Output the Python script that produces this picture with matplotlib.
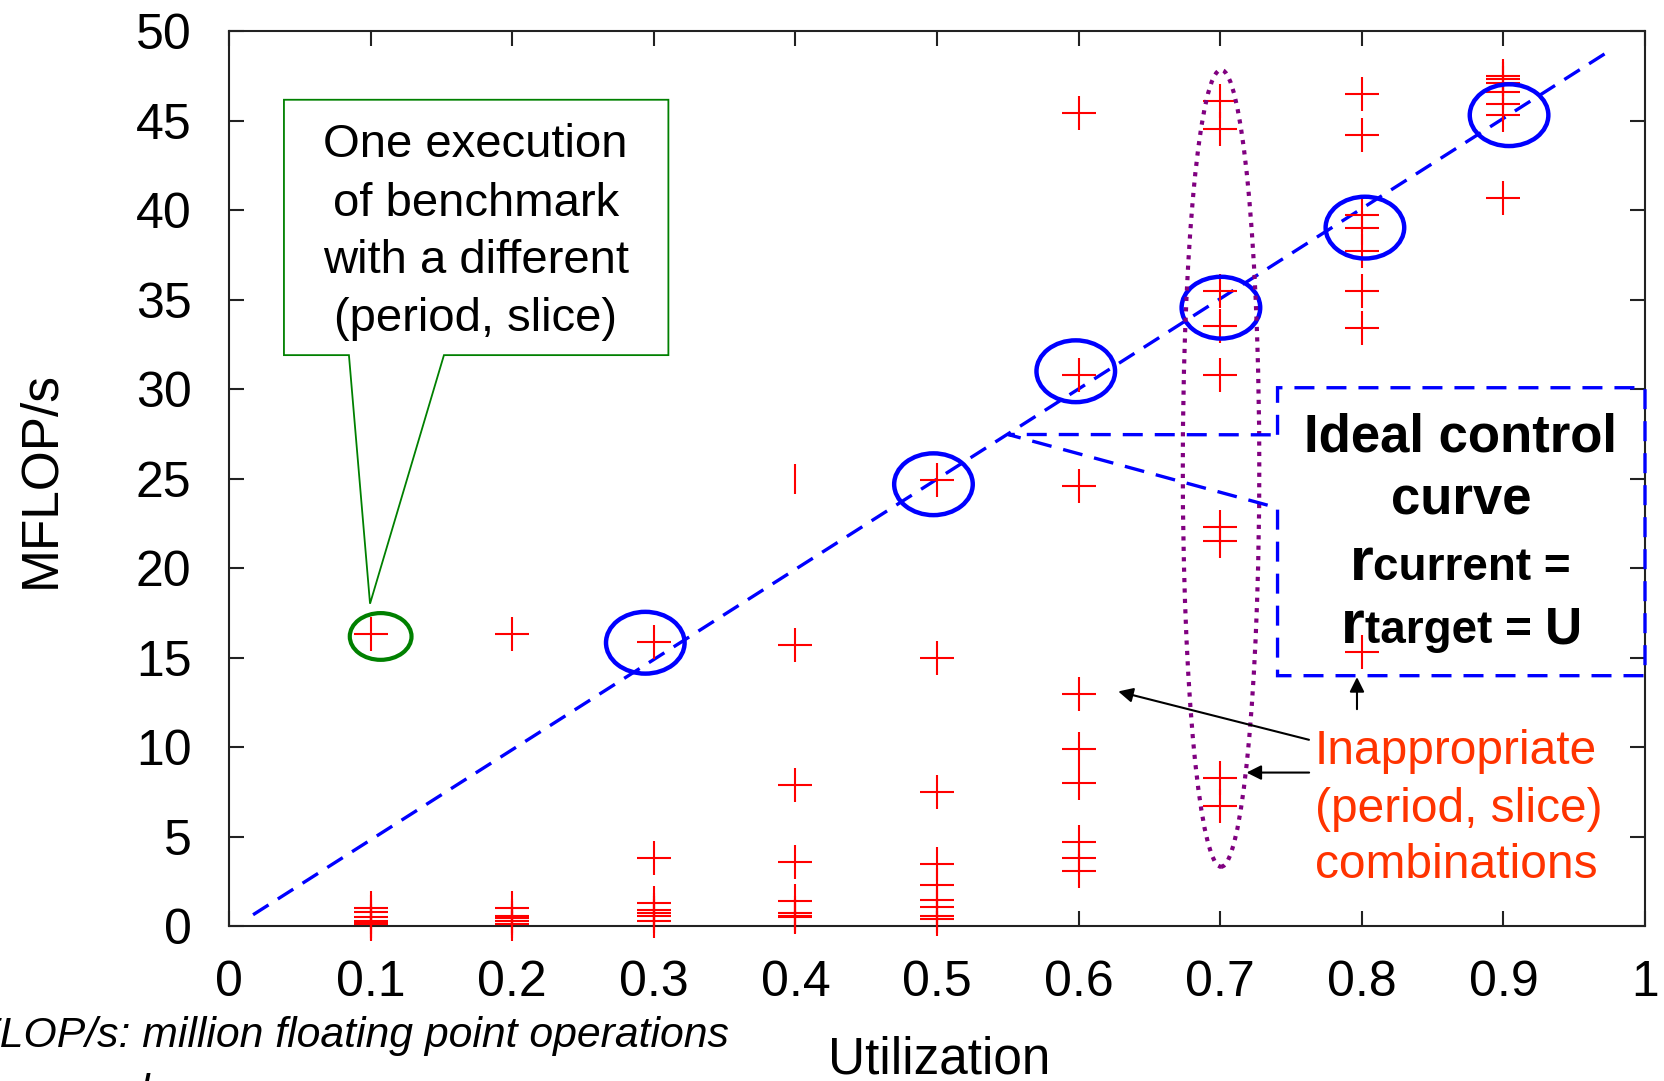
import matplotlib
matplotlib.use("Agg")
import matplotlib.pyplot as plt
from matplotlib.patches import Ellipse, Polygon

plt.rcParams['font.family'] = ['Liberation Sans', 'DejaVu Sans']

# ---------------- data ----------------
utilization = [0.1, 0.2, 0.3, 0.4, 0.5, 0.6, 0.7, 0.8, 0.9]
mflops_u01 = [16.3, 1.0, 0.8, 0.55, 0.3, 0.2, 0.13]
mflops_u02 = [16.3, 1.0, 0.6, 0.45, 0.3, 0.16]
mflops_u03 = [15.9, 3.8, 1.3, 0.9, 0.75, 0.6, 0.3]
mflops_u04 = [15.7, 7.9, 3.6, 1.4, 0.75, 0.6, 0.5]
mflops_u05 = [24.9, 15.0, 7.5, 3.5, 2.3, 1.5, 1.1, 0.6, 0.4]
mflops_u06 = [45.4, 30.8, 24.6, 13.0, 9.9, 8.0, 4.7, 3.8, 3.1]
mflops_u07 = [46.1, 44.5, 35.5, 33.5, 30.8, 22.3, 21.5, 8.3, 6.7]
mflops_u08 = [46.5, 44.2, 39.7, 39.0, 37.7, 35.5, 33.4, 15.3]
mflops_u09 = [47.5, 47.3, 47.1, 46.6, 45.9, 45.3, 40.7]
# point drawn only as a vertical stroke in the original
partial_x = [0.4]
partial_y = [25.0]

ideal_x = [0.017, 0.977]
ideal_y = [0.65, 49.0]

xtick_vals = [0, 0.1, 0.2, 0.3, 0.4, 0.5, 0.6, 0.7, 0.8, 0.9, 1.0]
xtick_labels = ['0', '0.1', '0.2', '0.3', '0.4', '0.5', '0.6', '0.7', '0.8', '0.9', '1']
ytick_vals = [0, 5, 10, 15, 20, 25, 30, 35, 40, 45, 50]

# highlighted (near-ideal) points
ideal_marks_x = [0.294, 0.4975, 0.598, 0.7005, 0.8022, 0.904]
ideal_marks_y = [15.84, 24.69, 31.0, 34.55, 39.02, 45.3]

# ---------------- figure ----------------
fig = plt.figure(figsize=(16.64, 10.81), dpi=100)
ax = fig.add_axes([0.13762, 0.14302, 0.85096, 0.82831])
ax.set_xlim(0, 1)
ax.set_ylim(0, 50)

groups = [mflops_u01, mflops_u02, mflops_u03, mflops_u04, mflops_u05,
          mflops_u06, mflops_u07, mflops_u08, mflops_u09]
xs, ys = [], []
for u, vals in zip(utilization, groups):
    xs.extend([u] * len(vals))
    ys.extend(vals)

red = '#FF0000'
ax.plot(ideal_x, ideal_y, color='#0000FF', lw=2.4, linestyle=(0, (5.5, 3.3)), zorder=2)
ax.plot(xs, ys, linestyle='none', marker='+', ms=24, mew=1.5, color=red,
        clip_on=False, zorder=3)
ax.plot(partial_x, partial_y, linestyle='none', marker='|', ms=22, mew=1.5,
        color=red, clip_on=False, zorder=3)

# blue ellipses around near-ideal points
for cx, cy in zip(ideal_marks_x, ideal_marks_y):
    ax.add_patch(Ellipse((cx, cy), 0.0555, 3.45, fill=False, ec='#0000FF',
                         lw=3.2, zorder=4))

# green ellipse
ax.add_patch(Ellipse((0.1071, 16.19), 0.0436, 2.61, fill=False, ec='#008000',
                     lw=3.0, zorder=4))

# purple dotted ellipse
ax.add_patch(Ellipse((0.7006, 25.58), 0.054, 44.5, fill=False, ec='#800080',
                     lw=3.0, linestyle=(0, (1, 1.5)), zorder=4))

# green callout
green_poly = [(0.0847, 31.9), (0.0996, 18.02), (0.1518, 31.9), (0.3103, 31.9),
              (0.3103, 46.16), (0.0388, 46.16), (0.0388, 31.9)]
ax.add_patch(Polygon(green_poly, closed=True, fill=False, ec='#008000',
                     lw=1.3, zorder=5, clip_on=False))
green_lines = ["One execution", "of benchmark", "with a different", "(period, slice)"]
green_base = [42.95, 39.69, 36.49, 33.24]
for t, yb in zip(green_lines, green_base):
    ax.text(0.1742, yb, t, ha='center', va='baseline', fontsize=34, color='black',
            zorder=6)

# blue dashed callout box
blue_poly = [(0.7405, 27.45), (0.7405, 30.08), (1.0, 30.08), (1.0, 14.0),
             (0.7405, 14.0), (0.7405, 23.37), (0.5501, 27.47)]
ax.add_patch(Polygon(blue_poly, closed=True, fill=False, ec='#0000FF', lw=2.4,
                     linestyle=(0, (6, 3.6)), zorder=5, clip_on=False))

ax.text(0.870, 26.53, "Ideal control", ha='center', va='baseline', fontsize=38,
        fontweight='bold', zorder=6)
ax.text(0.870, 23.0, "curve", ha='center', va='baseline', fontsize=38,
        fontweight='bold', zorder=6)
ax.text(0.8081, 19.36, "r", ha='right', va='baseline', fontsize=44,
        fontweight='bold', zorder=6)
ax.text(0.8081, 19.36, "current =", ha='left', va='baseline', fontsize=33,
        fontweight='bold', zorder=6)
ax.text(0.8020, 15.82, "r", ha='right', va='baseline', fontsize=44,
        fontweight='bold', zorder=6)
ax.text(0.8020, 15.82, "target =", ha='left', va='baseline', fontsize=33,
        fontweight='bold', zorder=6)
ax.text(0.929, 15.82, "U", ha='left', va='baseline', fontsize=37,
        fontweight='bold', zorder=6)

# red annotation text
red_txt = '#FF3300'
for t, yb in zip(["Inappropriate", "(period, slice)", "combinations"],
                 [9.05, 5.85, 2.69]):
    ax.text(0.767, yb, t, ha='left', va='baseline', fontsize=34.5, color=red_txt,
            zorder=6)

# arrows
arrows = [((0.628, 13.12), (0.7627, 10.42)),
          ((0.7186, 8.59), (0.7628, 8.59)),
          ((0.7966, 13.92), (0.7966, 12.13))]
for tip, tail in arrows:
    ax.annotate('', xy=tip, xytext=tail,
                arrowprops=dict(arrowstyle='-|>', color='black', lw=1.5,
                                mutation_scale=22, shrinkA=0, shrinkB=0),
                zorder=6)

# axes styling
for s in ax.spines.values():
    s.set_color('#222222')
    s.set_linewidth(1.5)
ax.set_xticks(xtick_vals)
ax.set_xticklabels(xtick_labels)
ax.set_yticks(ytick_vals)
ax.tick_params(axis='both', direction='in', length=10.6, width=1.5,
               color='#222222', top=True, right=True)
ax.tick_params(axis='x', labelsize=36, pad=24)
ax.tick_params(axis='y', labelsize=36, pad=27)

fig.text(0.0246, 0.556, "MFLOP/s", rotation=90, ha='center', va='center', fontsize=37)
fig.text(0.5646, 0.0074, "Utilization", ha='center', va='baseline', fontsize=37)
fig.text(-62 / 1664, 1 - 1047 / 1081, "MFLOP/s: million floating point operations",
         ha='left', va='baseline', fontsize=30.8, style='italic')
fig.text(-62 / 1664, 1 - 1104 / 1081, "per second",
         ha='left', va='baseline', fontsize=30.8, style='italic')

fig.savefig("out.png", dpi=100)
